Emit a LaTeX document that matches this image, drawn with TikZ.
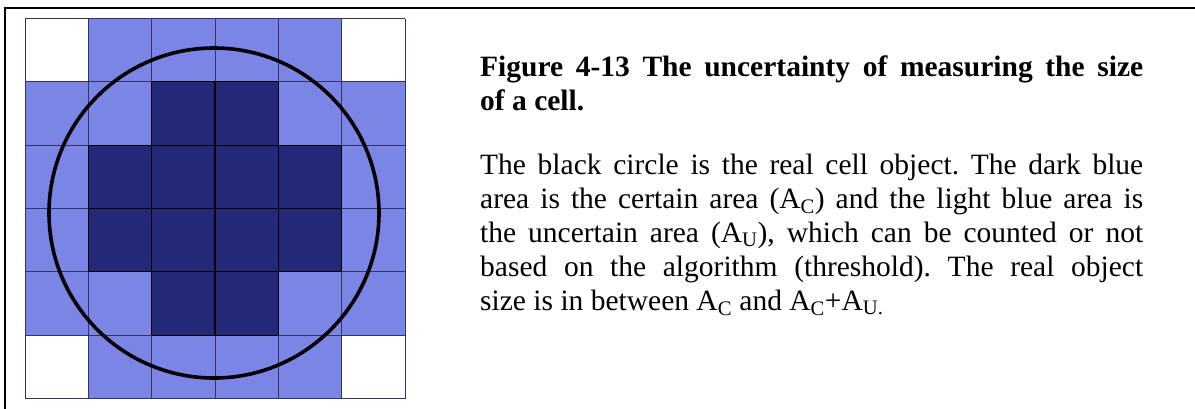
\documentclass[tikz,border=0pt]{standalone}
\usepackage{fontspec}
\setmainfont{Liberation Serif}
\frenchspacing
\definecolor{lightcell}{RGB}{122,133,229}
\definecolor{darkcell}{RGB}{36,40,120}
\definecolor{gridline}{RGB}{50,50,100}
\tikzset{
  frameline/.style={line width=2.5pt, black},
  gridstroke/.style={gridline, line width=0.9pt},
  darkstroke/.style={black, line width=1.3pt},
  cellcircle/.style={black, line width=3.6pt},
  titletext/.style={anchor=base west, inner sep=0pt, font=\bfseries\fontsize{29.5}{34}\selectfont},
  bodytext/.style={anchor=base west, inner sep=0pt, font=\fontsize{29.5}{34}\selectfont}
}
\begin{document}
\begin{tikzpicture}[x=1pt,y=-1pt]
\useasboundingbox (0,0) rectangle (1195,408);
\fill[white] (0,0) rectangle (1195,408);
% outer frame
\draw[frameline] (1196,8) -- (5,8) -- (5,409);
% cells
\def\s{63.333}
\fill[lightcell] (25,18.5) rectangle (405,398.5);
\fill[white] (25,18.5) rectangle (88.333,81.833);
\fill[white] (341.667,18.5) rectangle (405,81.833);
\fill[white] (25,335.167) rectangle (88.333,398.5);
\fill[white] (341.667,335.167) rectangle (405,398.5);
\fill[darkcell] (151.667,81.833) rectangle (278.333,145.167);
\fill[darkcell] (88.333,145.167) rectangle (341.667,271.833);
\fill[darkcell] (151.667,271.833) rectangle (278.333,335.167);
% grid lines
\foreach \i in {0,...,6} {
  \draw[gridstroke] ({25+\i*\s},18.5) -- ({25+\i*\s},398.5);
  \draw[gridstroke] (25,{18.5+\i*\s}) -- (405,{18.5+\i*\s});
}
% dark cell outlines
\draw[darkstroke] (151.667,81.833) -- (278.333,81.833) -- (278.333,145.167) -- (341.667,145.167) -- (341.667,271.833) -- (278.333,271.833) -- (278.333,335.167) -- (151.667,335.167) -- (151.667,271.833) -- (88.333,271.833) -- (88.333,145.167) -- (151.667,145.167) -- cycle;
\draw[darkstroke] (215,81.833) -- (215,335.167);
\draw[darkstroke] (151.667,145.167) -- (151.667,271.833);
\draw[darkstroke] (278.333,145.167) -- (278.333,271.833);
\draw[darkstroke] (88.333,208.5) -- (341.667,208.5);
\draw[darkstroke] (151.667,145.167) -- (278.333,145.167);
\draw[darkstroke] (151.667,271.833) -- (278.333,271.833);
% circle
\draw[cellcircle] (214,213) circle[radius=165];
% text
\node[titletext] (t1) at (480,76) {\makebox[663pt][s]{Figure 4-13 The uncertainty of measuring the size}};
\node[titletext] (t2) at (480,110) {of a cell.};
\node[bodytext] (b1) at (480,174) {\makebox[663pt][s]{The black circle is the real cell object. The dark blue}};
\node[bodytext] (b2) at (480,208) {\makebox[663pt][s]{area is the certain area (A\textsubscript{C}) and the light blue area is}};
\node[bodytext] (b3) at (480,242) {\makebox[663pt][s]{the uncertain area (A\textsubscript{U}), which can be counted or not}};
\node[bodytext] (b4) at (480,276) {\makebox[663pt][s]{based on the algorithm (threshold). The real object}};
\node[bodytext] (b5) at (480,310) {size is in between A\textsubscript{C} and A\textsubscript{C}+A\textsubscript{U.}};
\end{tikzpicture}
\end{document}
